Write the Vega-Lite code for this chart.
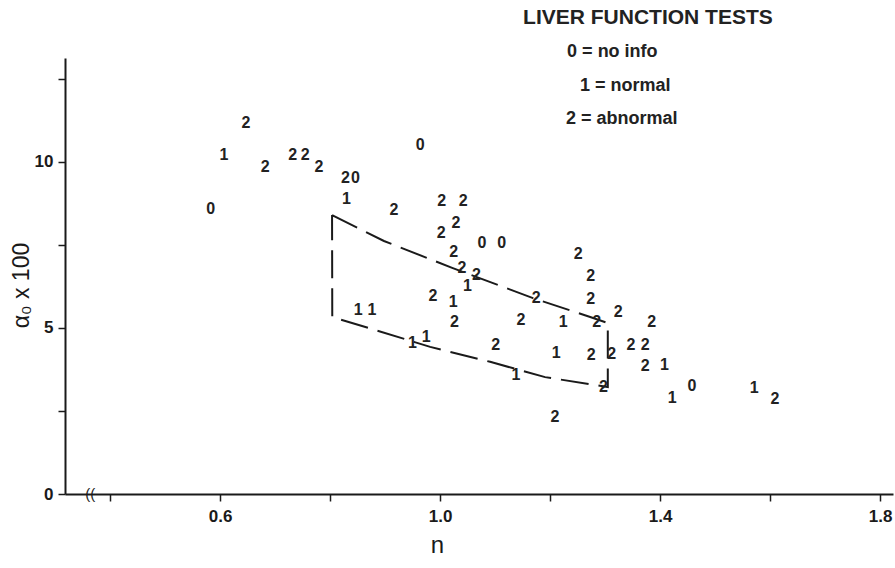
{
  "$schema": "https://vega.github.io/schema/vega-lite/v6.json",
  "width": 828,
  "height": 436,
  "autosize": {"type": "none"},
  "padding": {"left": 65, "top": 58, "right": 2, "bottom": 74},
  "background": "white",
  "config": {
    "view": {"stroke": null},
    "font": "Liberation Sans",
    "axis": {"grid": false, "domainColor": "#1a1a1a", "domainWidth": 2, "tickColor": "#1a1a1a", "tickWidth": 1.5, "labelColor": "#1a1a1a", "titleColor": "#1a1a1a", "labelFontSize": 17, "labelFontWeight": "bold"}
  },
  "datasets": {
    "points": [
      {"n": 0.647, "a": 11.17, "label": "2"},
      {"n": 0.607, "a": 10.21, "label": "1"},
      {"n": 0.682, "a": 9.86, "label": "2"},
      {"n": 0.732, "a": 10.21, "label": "2"},
      {"n": 0.755, "a": 10.21, "label": "2"},
      {"n": 0.780, "a": 9.86, "label": "2"},
      {"n": 0.828, "a": 9.51, "label": "2"},
      {"n": 0.846, "a": 9.51, "label": "0"},
      {"n": 0.830, "a": 8.88, "label": "1"},
      {"n": 0.583, "a": 8.58, "label": "0"},
      {"n": 0.916, "a": 8.55, "label": "2"},
      {"n": 0.964, "a": 10.50, "label": "0"},
      {"n": 1.003, "a": 8.83, "label": "2"},
      {"n": 1.042, "a": 8.83, "label": "2"},
      {"n": 1.029, "a": 8.17, "label": "2"},
      {"n": 1.002, "a": 7.85, "label": "2"},
      {"n": 1.076, "a": 7.55, "label": "0"},
      {"n": 1.112, "a": 7.55, "label": "0"},
      {"n": 1.025, "a": 7.30, "label": "2"},
      {"n": 1.040, "a": 6.82, "label": "2"},
      {"n": 1.066, "a": 6.60, "label": "2"},
      {"n": 1.050, "a": 6.25, "label": "1"},
      {"n": 1.251, "a": 7.22, "label": "2"},
      {"n": 1.274, "a": 6.55, "label": "2"},
      {"n": 1.274, "a": 5.86, "label": "2"},
      {"n": 0.987, "a": 5.97, "label": "2"},
      {"n": 1.175, "a": 5.90, "label": "2"},
      {"n": 1.324, "a": 5.49, "label": "2"},
      {"n": 0.851, "a": 5.54, "label": "1"},
      {"n": 0.876, "a": 5.54, "label": "1"},
      {"n": 1.024, "a": 5.78, "label": "1"},
      {"n": 1.026, "a": 5.17, "label": "2"},
      {"n": 1.147, "a": 5.24, "label": "2"},
      {"n": 1.224, "a": 5.19, "label": "1"},
      {"n": 1.285, "a": 5.19, "label": "2"},
      {"n": 1.385, "a": 5.19, "label": "2"},
      {"n": 0.950, "a": 4.54, "label": "1"},
      {"n": 0.975, "a": 4.74, "label": "1"},
      {"n": 1.101, "a": 4.49, "label": "2"},
      {"n": 1.211, "a": 4.24, "label": "1"},
      {"n": 1.275, "a": 4.19, "label": "2"},
      {"n": 1.312, "a": 4.22, "label": "2"},
      {"n": 1.347, "a": 4.49, "label": "2"},
      {"n": 1.373, "a": 4.49, "label": "2"},
      {"n": 1.373, "a": 3.86, "label": "2"},
      {"n": 1.408, "a": 3.89, "label": "1"},
      {"n": 1.138, "a": 3.58, "label": "1"},
      {"n": 1.297, "a": 3.21, "label": "2"},
      {"n": 1.209, "a": 2.33, "label": "2"},
      {"n": 1.458, "a": 3.25, "label": "0"},
      {"n": 1.422, "a": 2.88, "label": "1"},
      {"n": 1.571, "a": 3.18, "label": "1"},
      {"n": 1.609, "a": 2.85, "label": "2"}
    ],
    "box": [
      {"i": 1, "n": 0.8036, "a": 8.40},
      {"i": 2, "n": 0.898, "a": 7.62},
      {"i": 3, "n": 1.022, "a": 6.81},
      {"i": 4, "n": 1.169, "a": 5.90},
      {"i": 5, "n": 1.273, "a": 5.33},
      {"i": 6, "n": 1.305, "a": 5.15},
      {"i": 7, "n": 1.305, "a": 3.22},
      {"i": 8, "n": 1.191, "a": 3.52},
      {"i": 9, "n": 1.091, "a": 3.98},
      {"i": 10, "n": 0.982, "a": 4.43},
      {"i": 11, "n": 0.882, "a": 4.94},
      {"i": 12, "n": 0.804, "a": 5.33},
      {"i": 13, "n": 0.8036, "a": 8.40}
    ],
    "legend": [
      {"n": 1.231, "a": 13.31, "text": "0 = no info"},
      {"n": 1.2545, "a": 12.29, "text": "1 = normal"},
      {"n": 1.229, "a": 11.30, "text": "2 = abnormal"}
    ]
  },
  "layer": [
    {
      "data": {"name": "box"},
      "mark": {"type": "line", "color": "#1a1a1a", "strokeWidth": 2, "strokeDash": [28, 10], "interpolate": "linear"},
      "encoding": {
        "x": {
          "field": "n", "type": "quantitative",
          "scale": {"domain": [0.318, 1.8236], "nice": false, "zero": false},
          "axis": {
            "values": [0.4, 0.6, 0.8, 1.0, 1.2, 1.4, 1.6, 1.8],
            "format": ".1f",
            "labelExpr": "indexof(['0.6','1.0','1.4','1.8'], datum.label) >= 0 ? datum.label : ''",
            "tickSize": 7,
            "labelPadding": 7,
            "labelFontSize": 17,
            "title": "n",
            "titleFontSize": 24,
            "titleFontWeight": "normal",
            "titleX": 372,
            "titleY": 51,
            "titleAlign": "center",
            "titleBaseline": "middle"
          }
        },
        "y": {
          "field": "a", "type": "quantitative",
          "scale": {"domain": [0, 13.13], "nice": false},
          "axis": {
            "values": [0, 2.5, 5, 7.5, 10, 12.5],
            "labelExpr": "indexof(['0','5','10'], datum.label) >= 0 ? datum.label : ''",
            "tickSize": 7,
            "labelPadding": 5,
            "labelFontSize": 17,
            "title": "α₀  x  100",
            "titleFontSize": 23,
            "titleFontWeight": "normal",
            "titleAngle": 270,
            "titleX": -44,
            "titleY": 227,
            "titleAlign": "center",
            "titleBaseline": "middle"
          }
        },
        "order": {"field": "i", "type": "quantitative"}
      }
    },
    {
      "data": {"name": "points"},
      "mark": {"type": "text", "font": "Liberation Sans", "fontSize": 16, "fontWeight": "bold", "color": "#222222", "align": "center", "baseline": "middle"},
      "encoding": {
        "x": {"field": "n", "type": "quantitative"},
        "y": {"field": "a", "type": "quantitative"},
        "text": {"field": "label"}
      }
    },
    {
      "data": {"name": "legend"},
      "mark": {"type": "text", "font": "Liberation Sans", "fontSize": 18, "fontWeight": "bold", "color": "#222222", "align": "left", "baseline": "middle"},
      "encoding": {
        "x": {"field": "n", "type": "quantitative"},
        "y": {"field": "a", "type": "quantitative"},
        "text": {"field": "text"}
      }
    },
    {
      "data": {"values": [{"n": 1.378, "a": 14.34, "text": "LIVER FUNCTION TESTS"}]},
      "mark": {"type": "text", "font": "Liberation Sans", "fontSize": 21, "fontWeight": "bold", "color": "#222222", "align": "center", "baseline": "middle"},
      "encoding": {
        "x": {"field": "n", "type": "quantitative"},
        "y": {"field": "a", "type": "quantitative"},
        "text": {"field": "text"}
      }
    },
    {
      "data": {"values": [{"n": 0.364, "a": 0, "text": "(("}]},
      "mark": {"type": "text", "font": "Liberation Sans", "fontSize": 15, "color": "#1a1a1a", "align": "center", "baseline": "middle"},
      "encoding": {
        "x": {"field": "n", "type": "quantitative"},
        "y": {"field": "a", "type": "quantitative"},
        "text": {"field": "text"}
      }
    }
  ]
}
